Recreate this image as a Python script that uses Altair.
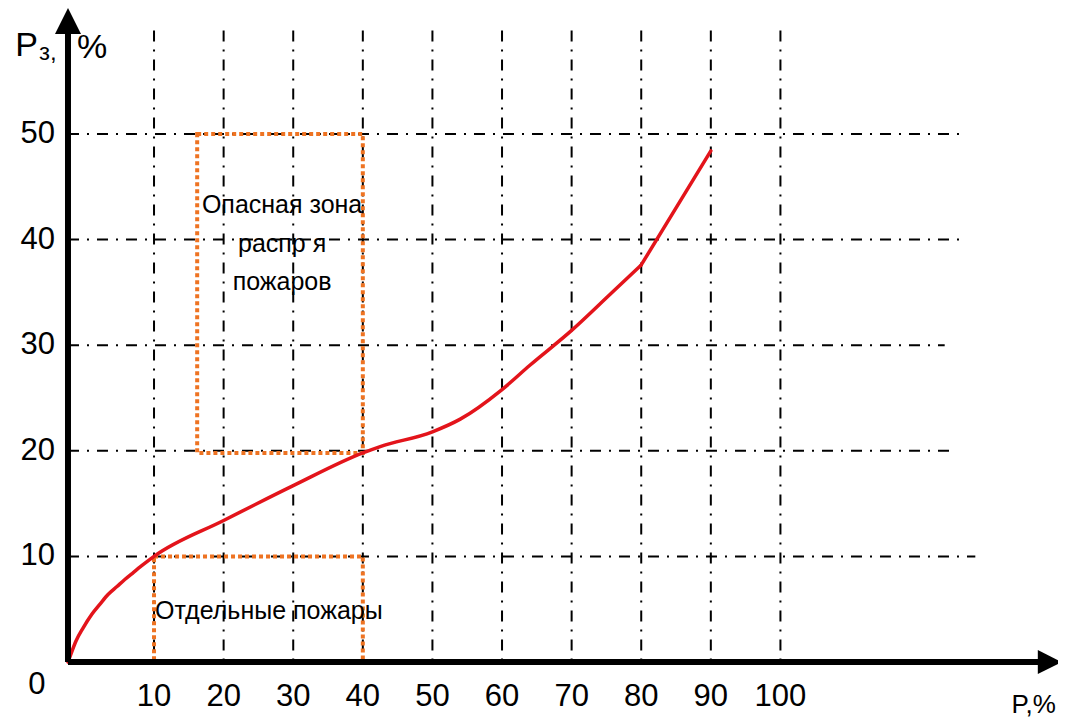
import altair as alt
import pandas as pd

# ---- data ----
curve_x = [-2.36, -1.78, -1.21, -0.20, 1.09, 2.24, 3.39, 4.68, 5.80, 6.98, 8.28, 10, 20, 30, 40, 42.5, 50, 54, 60, 64, 70, 75.5, 80, 90]
curve_y = [0, 1.04, 1.99, 3.22, 4.55, 5.49, 6.39, 7.15, 7.81, 8.45, 9.14, 10.0, 13.4, 16.7, 19.8, 20.4, 21.8, 23.0, 25.8, 28.1, 31.4, 34.8, 37.6, 48.4]
kink_x = 80  # the curve turns straight after this point

x_ticks = [10, 20, 30, 40, 50, 60, 70, 80, 90, 100]
y_ticks = [10, 20, 30, 40, 50]
h_grid_end = [128.0, 125.1, 123.6, 126.5, 126.2]

axis_min_x = -2.36
axis_max_x = 138.7
axis_max_y = 60.7
vgrid_top = 59.8

zone_x = [16.2, 10]
zone_x2 = [40, 40]
zone_y = [50, 10]
zone_y2 = [19.8, 0]

zone_text = ["Опасная зона", "распр я", "пожаров", "Отдельные пожары"]
zone_text_x = [28.4, 28.4, 28.4, 26.5]
zone_text_y = [43.3, 39.6, 36.0, 4.8]

# ---- scales ----
W, H = 1050, 712
xs = alt.Scale(domain=[-10.98, 139.88], nice=False, zero=False)
ys = alt.Scale(domain=[-5.49, 61.93], nice=False, zero=False)

def X(f="x"):
    return alt.X(f, type="quantitative", scale=xs, axis=None)

def Y(f="y"):
    return alt.Y(f, type="quantitative", scale=ys, axis=None)

dash = [11, 8, 2, 8]

vgrid = alt.Chart(pd.DataFrame({"x": x_ticks, "y": [vgrid_top] * len(x_ticks), "y2": [0] * len(x_ticks)})).mark_rule(
    color="black", strokeWidth=2, strokeDash=dash
).encode(x=X(), y=Y(), y2="y2")

hgrid = alt.Chart(pd.DataFrame({"x": [axis_min_x] * len(y_ticks), "x2": h_grid_end, "y": y_ticks})).mark_rule(
    color="black", strokeWidth=2, strokeDash=dash
).encode(x=X(), x2="x2", y=Y())

zones = alt.Chart(pd.DataFrame({"x": zone_x, "x2": zone_x2, "y": zone_y, "y2": zone_y2})).mark_rect(
    fillOpacity=0, stroke="#EE7322", strokeWidth=4, strokeDash=[4, 3]
).encode(x=X(), x2="x2", y=Y(), y2="y2")

cdf = pd.DataFrame({"x": curve_x, "y": curve_y})
curve_smooth = alt.Chart(cdf[cdf.x <= kink_x]).mark_line(
    color="#E3141B", strokeWidth=3.5, interpolate="monotone", strokeCap="round"
).encode(x=X(), y=Y())
curve_straight = alt.Chart(cdf[cdf.x >= kink_x]).mark_line(
    color="#E3141B", strokeWidth=3.5, interpolate="linear", strokeCap="round"
).encode(x=X(), y=Y())

xaxis = alt.Chart(pd.DataFrame({"x": [axis_min_x], "x2": [axis_max_x], "y": [0]})).mark_rule(
    color="black", strokeWidth=6
).encode(x=X(), x2="x2", y=Y())

yaxis = alt.Chart(pd.DataFrame({"x": [axis_min_x], "y": [0], "y2": [axis_max_y]})).mark_rule(
    color="black", strokeWidth=6
).encode(x=X(), y=Y(), y2="y2")

xarrow = alt.Chart(pd.DataFrame({"x": [axis_max_x], "y": [0]})).mark_point(
    shape="M1,0L-1,1L-1,-1Z", size=576, filled=True, color="black", opacity=1
).encode(x=X(), y=Y())

yarrow = alt.Chart(pd.DataFrame({"x": [axis_min_x], "y": [axis_max_y]})).mark_point(
    shape="M0,-1L1,1L-1,1Z", size=676, filled=True, color="black", opacity=1
).encode(x=X(), y=Y())

font = "Liberation Sans"
fs = 31

ylabels = alt.Chart(pd.DataFrame({"x": [axis_min_x] * len(y_ticks), "y": y_ticks, "t": [str(v) for v in y_ticks]})).mark_text(
    font=font, fontSize=fs, align="right", baseline="middle", dx=-13, color="black"
).encode(x=X(), y=Y(), text="t:N")

xlabels = alt.Chart(pd.DataFrame({"x": x_ticks, "y": [0] * len(x_ticks), "t": [str(v) for v in x_ticks]})).mark_text(
    font=font, fontSize=fs, align="center", baseline="middle", dy=35, color="black"
).encode(x=X(), y=Y(), text="t:N")

zero = alt.Chart(pd.DataFrame({"x": [axis_min_x], "y": [0], "t": ["0"]})).mark_text(
    font=font, fontSize=fs, align="center", baseline="middle", dx=-31, dy=23, color="black"
).encode(x=X(), y=Y(), text="t:N")

xtitle = alt.Chart(pd.DataFrame({"x": [axis_max_x], "y": [0], "t": ["P,%"]})).mark_text(
    font=font, fontSize=26, align="right", baseline="middle", dx=6, dy=43, color="black"
).encode(x=X(), y=Y(), text="t:N")

ytitle_p = alt.Chart(pd.DataFrame({"x": [axis_min_x], "y": [axis_max_y], "t": ["P"]})).mark_text(
    font=font, fontSize=34, align="right", baseline="middle", dx=-30, dy=25, color="black"
).encode(x=X(), y=Y(), text="t:N")

ytitle_sub = alt.Chart(pd.DataFrame({"x": [axis_min_x], "y": [axis_max_y], "t": ["з,"]})).mark_text(
    font=font, fontSize=24, align="left", baseline="alphabetic", dx=-29, dy=39, color="black"
).encode(x=X(), y=Y(), text="t:N")

ytitle_pct = alt.Chart(pd.DataFrame({"x": [axis_min_x], "y": [axis_max_y], "t": ["%"]})).mark_text(
    font=font, fontSize=34, align="left", baseline="middle", dx=9, dy=27, color="black"
).encode(x=X(), y=Y(), text="t:N")

ztext = alt.Chart(pd.DataFrame({"x": zone_text_x, "y": zone_text_y, "t": zone_text})).mark_text(
    font=font, fontSize=25, align="center", baseline="middle", color="black"
).encode(x=X(), y=Y(), text="t:N")

chart = alt.layer(
    vgrid, hgrid, zones, curve_smooth, curve_straight, xaxis, yaxis, xarrow, yarrow,
    ylabels, xlabels, zero, xtitle, ytitle_p, ytitle_sub, ytitle_pct, ztext
).properties(
    width=W, height=H, padding=0, autosize=alt.AutoSizeParams(type="none"), background="white"
).configure_view(stroke=None)

chart.save("out.html", embed_options={"renderer": "svg", "actions": False})
